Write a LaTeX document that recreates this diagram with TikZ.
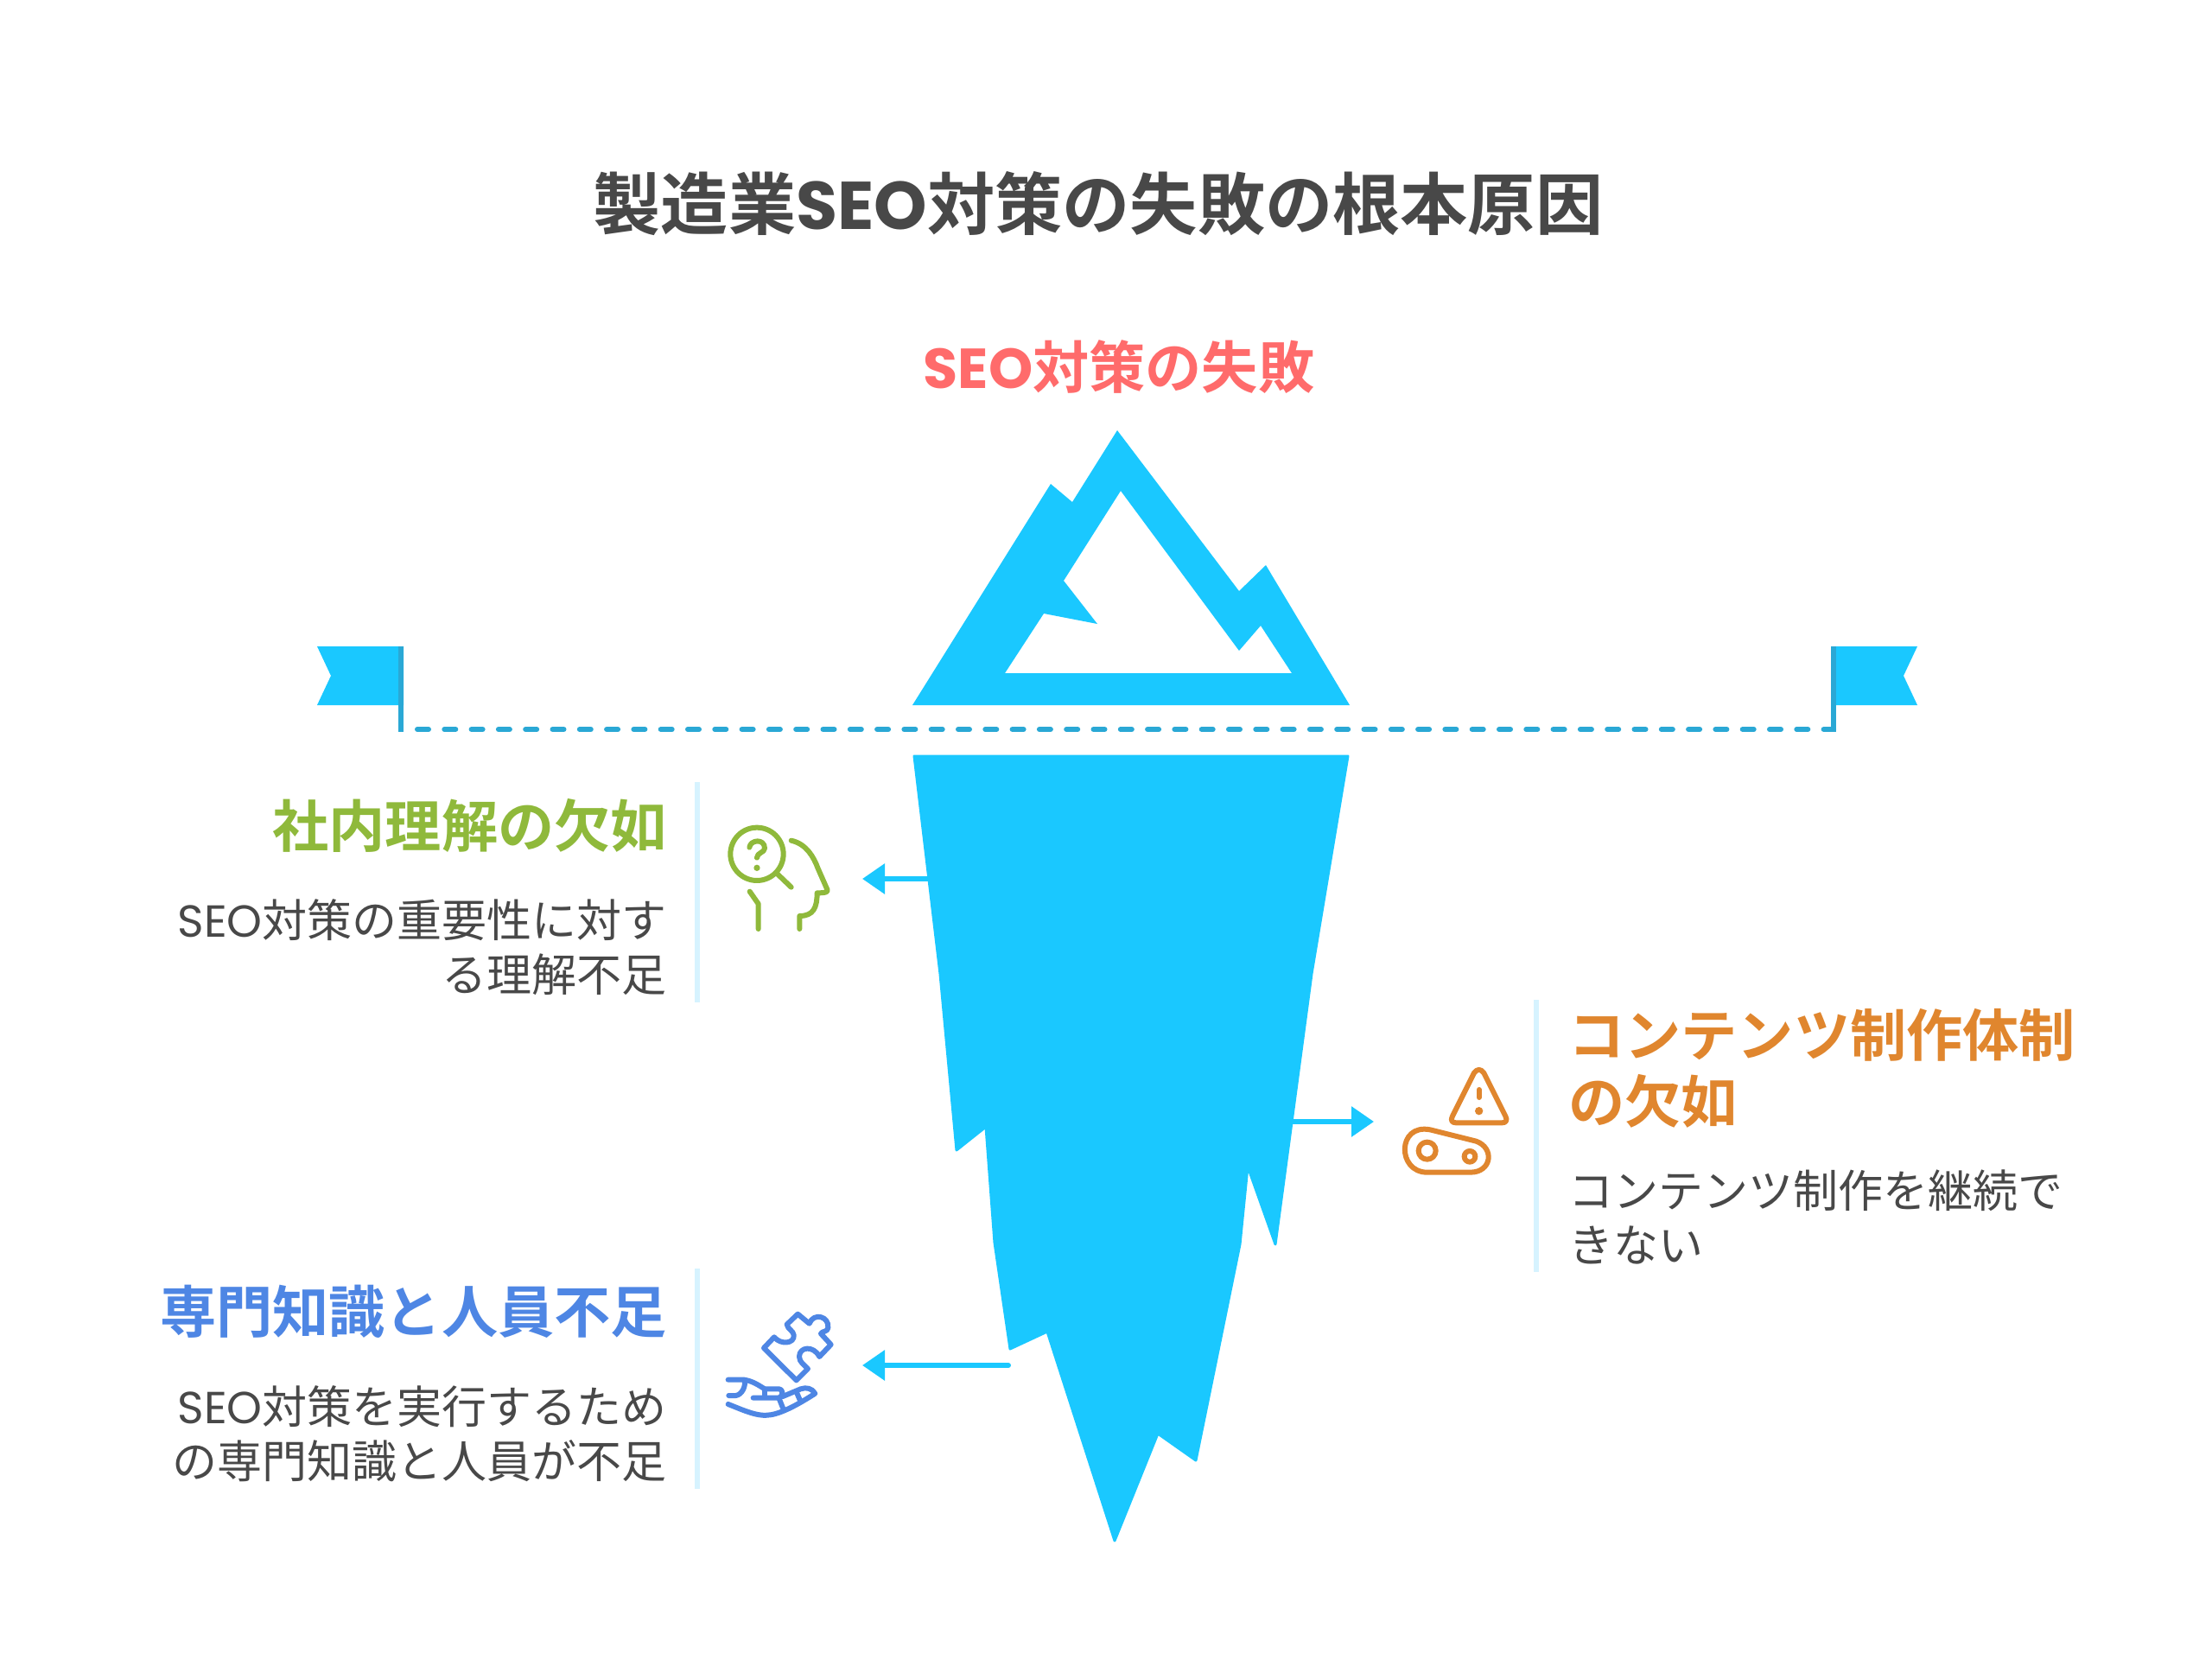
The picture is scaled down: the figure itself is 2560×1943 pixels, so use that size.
\documentclass[tikz,border=0pt]{standalone}
\usepackage{fontspec}
\usetikzlibrary{arrows.meta}
\setmainfont{Noto Sans CJK JP}
\newfontfamily\jpb{Noto Sans CJK JP Bold}
\newfontfamily\jpr{Noto Sans CJK JP}
\newfontfamily\seob{Poppins Bold}
\newfontfamily\seor{Poppins}
\definecolor{berg}{HTML}{1AC8FF}
\definecolor{dashc}{HTML}{2AA8D5}
\definecolor{barc}{HTML}{D6F3FF}
\definecolor{ink}{HTML}{484848}
\definecolor{redc}{HTML}{FF6B6B}
\definecolor{greenc}{HTML}{8FB93B}
\definecolor{orangec}{HTML}{E0862E}
\definecolor{bluec}{HTML}{4E86E4}
\tikzset{
  titletext/.style={inner sep=0pt,text=ink,font=\fontsize{78.2pt}{78pt}\selectfont\jpb},
  headtext/.style={inner sep=0pt,font=\fontsize{65.2pt}{77pt}\selectfont\jpb},
  bodytext/.style={inner sep=0pt,text=ink,font=\fontsize{52pt}{63pt}\selectfont\jpr},
  bergshape/.style={fill=berg,draw=berg,line width=3pt,line join=round},
  pole/.style={draw=dashc,line width=6pt},
  sidebar/.style={draw=barc,line width=6pt},
  arr/.style={draw=berg,line width=6pt,line join=round,-{Triangle[length=26pt,width=34pt]}},
  icon/.style={line width=6pt,line cap=round,line join=round,fill=none},
}
\begin{document}
\begin{tikzpicture}[x=1pt,y=-1pt]
\useasboundingbox[fill=white] (0,0) rectangle (2560,1943);
% title
\node[titletext] (title) at (1271,236) {製造業{\seob SEO}対策の失敗の根本原因};
\node[headtext,text=redc] (tip) at (1295,425) {{\seob SEO}対策の失敗};
% mountain
\fill[berg,even odd rule,line join=round]
  (1056,816) -- (1216,560) -- (1241,581) -- (1293,498) -- (1434,684) -- (1465,654) -- (1562,816) -- cycle
  (1297,568) -- (1231,672) -- (1270,722) -- (1208,710) -- (1163,779) -- (1495,779) -- (1459,724) -- (1434,753) -- cycle;
% underwater
\path[bergshape] (1058,875) -- (1560,875) -- (1518,1127) -- (1476,1440) -- (1444,1350) -- (1435,1440) -- (1384,1690) -- (1340,1659) -- (1290,1783) -- (1212,1541) -- (1169,1561) -- (1151,1438) -- (1141,1304) -- (1107,1331) -- (1088,1127) -- cycle;
% flags and water line
\fill[berg] (367,748) -- (467,748) -- (467,816) -- (367,816) -- (383,782) -- cycle;
\fill[berg] (2219,748) -- (2120,748) -- (2120,816) -- (2219,816) -- (2203,782) -- cycle;
\coordinate (fl) at (464,748);
\coordinate (fla) at (464,847);
\coordinate (fr) at (2122,748);
\coordinate (fra) at (2122,847);
\coordinate (wl) at (483,844);
\coordinate (wr) at (2122,844);
\draw[pole] (fl) -- (fla);
\draw[pole] (fr) -- (fra);
\draw[dashc,line width=6pt,line cap=round,dash pattern=on 13pt off 18.3pt] (wl) -- (wr);
% side bars
\draw[sidebar] (807,905) -- (807,1160);
\draw[sidebar] (807,1468) -- (807,1723);
\draw[sidebar] (1778,1157) -- (1778,1472);
% texts
\node[headtext,text=greenc,anchor=east] (h1) at (772,955) {社内理解の欠如};
\node[bodytext,anchor=east,align=right] (b1) at (772,1096) {{\seor SEO}対策の重要性に対す\\る理解不足};
\node[headtext,text=bluec,anchor=east] (h2) at (772,1518) {専門知識と人員不足};
\node[bodytext,anchor=east,align=right] (b2) at (772,1659) {{\seor SEO}対策を実行するため\\の専門知識と人員が不足};
\node[headtext,text=orangec,anchor=west,align=left] (h3) at (1815,1236) {コンテンツ制作体制\\の欠如};
\node[bodytext,anchor=west,align=left] (b3) at (1815,1408) {コンテンツ制作を継続で\\きない};
% arrows
\coordinate (a1s) at (1078,1017); \coordinate (a1e) at (998,1017);
\coordinate (a2s) at (1167,1580); \coordinate (a2e) at (998,1580);
\coordinate (a3s) at (1494,1298); \coordinate (a3e) at (1590,1298);
\draw[arr] (a1s) -- (a1e);
\draw[arr,line cap=round] (a2s) -- (a2e);
\draw[arr] (a3s) -- (a3e);
% head icon
\begin{scope}[shift={(800,920)},x=.3333pt,y=-.3333pt]
\draw[icon,greenc] (228,205) circle (92);
\draw[icon,greenc] (300,275) -- (347,320);
\draw[icon,greenc] (202,182) .. controls (205,155) and (255,150) .. (255,185) .. controls (255,200) and (228,200) .. (228,218);
\fill[greenc] (228,253) circle (11);
\draw[icon,greenc] (347,158) .. controls (400,170) and (425,215) .. (440,255) -- (473,330) .. controls (473,338) and (465,340) .. (437,340) .. controls (437,390) and (425,420) .. (376,420) -- (376,465);
\draw[icon,greenc] (203,335) -- (233,378) -- (233,465);
\end{scope}
% warning icon
\begin{scope}[shift={(1580,1200)},x=.3333pt,y=-.3333pt]
\draw[icon,orangec] (378,125) .. controls (388,110) and (402,110) .. (412,125) -- (487,275) .. controls (495,290) and (488,298) .. (475,298) -- (315,298) .. controls (302,298) and (295,290) .. (303,275) -- cycle;
\draw[icon,orangec] (395,183) -- (395,210);
\fill[orangec] (395,257) circle (14);
\draw[icon,orangec] (225,322) -- (385,362) .. controls (450,385) and (440,470) .. (365,470) -- (215,470) .. controls (110,470) and (110,300) .. (225,322) -- cycle;
\draw[icon,orangec] (215,395) circle (30);
\draw[icon,orangec] (363,415) circle (19);
\end{scope}
% puzzle and hand icon
\begin{scope}[shift={(820,1490)},x=.3333pt,y=-.3333pt]
\draw[icon,bluec] (192,210) -- (228,172) .. controls (250,200) and (300,195) .. (296,165) .. controls (295,150) and (275,145) .. (272,128) -- (310,92) -- (350,125) .. controls (365,85) and (420,100) .. (415,140) .. controls (413,155) and (395,150) .. (390,160) -- (425,198) -- (385,240) .. controls (365,200) and (315,205) .. (315,240) .. controls (315,260) and (335,270) .. (345,282) -- (305,322) -- cycle;
\draw[icon,bluec] (68,320) -- (120,320) .. controls (150,322) and (175,340) .. (195,352) -- (245,352) .. controls (258,352) and (262,375) .. (245,383) -- (155,383);
\draw[icon,bluec] (70,375) -- (95,375) .. controls (115,372) and (130,345) .. (125,320);
\draw[icon,bluec] (68,405) .. controls (120,425) and (170,450) .. (215,442) .. controls (260,435) and (320,400) .. (370,368) .. controls (360,350) and (340,345) .. (320,352) -- (258,378);
\draw[icon,bluec] (195,352) -- (195,380);
\draw[icon,bluec] (245,385) -- (258,418);
\draw[icon,bluec] (305,362) -- (318,392);
\end{scope}
\end{tikzpicture}
\end{document}
